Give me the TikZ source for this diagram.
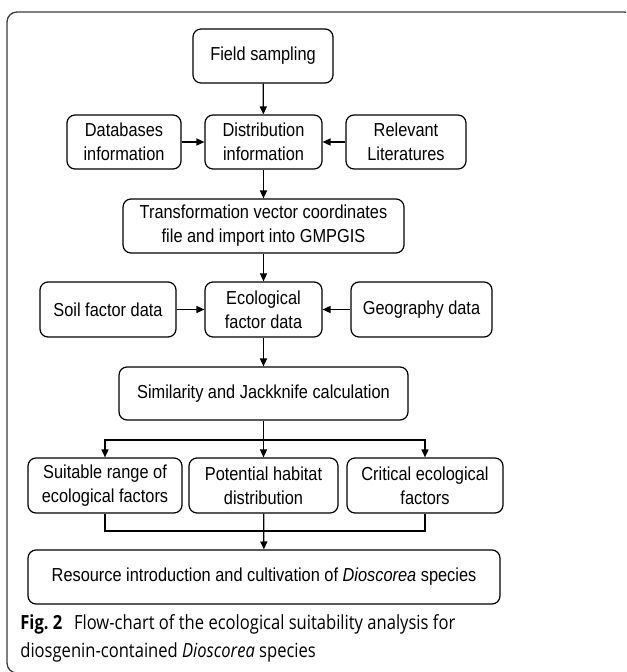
\documentclass[tikz,border=0pt]{standalone}
\usepackage{fontspec}
\setmainfont{Liberation Sans}[FakeStretch=0.87]
\newfontfamily\capfont{Open Sans}[FakeStretch=0.85]
\usetikzlibrary{arrows.meta}
\definecolor{framegray}{RGB}{60,60,60}
\newcommand{\boxfont}{\fontsize{10.7}{13.6}\selectfont}
\newcommand{\captionfont}{\capfont\fontsize{11.1}{15.9}\selectfont}
\begin{document}
\begin{tikzpicture}[x=0.02cm, y=-0.02cm, >={Triangle[length=4.5pt,width=4pt]},
    box/.style={draw, rounded corners=0.16cm, align=center, inner sep=0pt,
        font=\boxfont, line width=0.7pt, minimum height=1.08cm},
    flow/.style={->, line width=0.7pt}]
    \useasboundingbox (0,0) rectangle (626,672);

    % Outer frame
    \begin{scope}
        \clip (0,0) rectangle (626,672);
        \draw[framegray, line width=0.75pt, rounded corners=0.2cm]
            (7,673) -- (7,12) -- (634,12) -- (634,673) -- cycle;
    \end{scope}

    % Data sources
    \node[box, minimum width=2.8cm] (field) at (263,56) {Field sampling};
    \node[box, minimum width=2.28cm] (db) at (124,142) {Databases\\information};
    \node[box, minimum width=2.34cm] (dist) at (263.5,142) {Distribution\\information};
    \node[box, minimum width=2.4cm] (lit) at (406,142) {Relevant\\Literatures};
    \node[box, minimum width=5.62cm] (trans) at (263.5,226)
        {Transformation vector coordinates\\file and import into GMPGIS};

    % Ecological factors
    \node[box, minimum width=2.72cm, minimum height=1.1cm] (soil) at (108,309.5) {Soil factor data};
    \node[box, minimum width=2.34cm, minimum height=1.1cm] (eco) at (263.5,309.5) {Ecological\\factor data};
    \node[box, minimum width=2.82cm, minimum height=1.1cm] (geo) at (421.5,309.5) {Geography data};
    \node[box, minimum width=5.78cm, minimum height=1.06cm] (sim) at (263.5,393.5)
        {Similarity and Jackknife calculation};

    % Results
    \node[box, minimum width=3.08cm, minimum height=1.1cm] (suit) at (105,485.5) {Suitable range of\\ecological factors};
    \node[box, minimum width=2.98cm, minimum height=1.1cm] (pot) at (263.5,485.5) {Potential habitat\\distribution};
    \node[box, minimum width=3.12cm, minimum height=1.1cm] (crit) at (425,485.5) {Critical ecological\\factors};
    \node[box, minimum width=9.44cm] (res) at (264,577)
        {Resource introduction and cultivation of \textit{Dioscorea} species};

    \coordinate (split) at (263.5,440);
    \coordinate (merge) at (263.5,531);

    % Connectors
    \draw[flow] (field) -- (dist);
    \draw[flow] (db) -- (dist);
    \draw[flow] (lit) -- (dist);
    \draw[flow] (dist) -- (trans);
    \draw[flow] (trans) -- (eco);
    \draw[flow] (soil) -- (eco);
    \draw[flow] (geo) -- (eco);
    \draw[flow] (eco) -- (sim);
    \draw[line width=0.7pt] (sim) -- (split);
    \draw[flow] (split) -| (suit);
    \draw[flow] (split) -- (pot);
    \draw[flow] (split) -| (crit);
    \draw[line width=0.7pt] (suit) |- (merge);
    \draw[line width=0.7pt] (crit) |- (merge);
    \draw[flow] (pot) -- (res);

    % Caption
    \node[anchor=base west, inner sep=0pt, font=\captionfont] (cap1) at (20,629)
        {\textbf{Fig.~2}\hspace{0.6em}Flow-chart of the ecological suitability analysis for};
    \node[anchor=base west, inner sep=0pt, font=\captionfont] (cap2) at (20,657)
        {diosgenin-contained \textit{Dioscorea} species};
\end{tikzpicture}
\end{document}
